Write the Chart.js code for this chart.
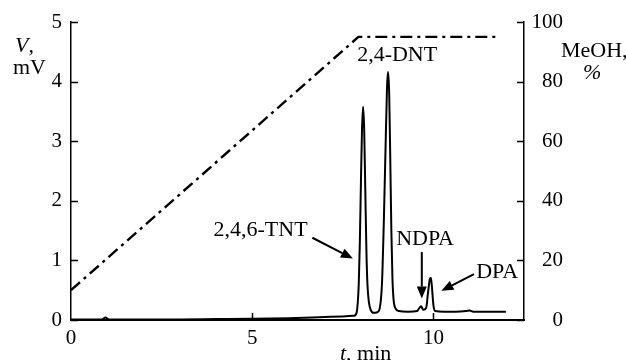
<!DOCTYPE html>
<html>
<head>
<meta charset="utf-8">
<script src="https://cdn.jsdelivr.net/npm/chart.js@4/dist/chart.umd.min.js"></script>
<style>
  html, body { margin: 0; padding: 0; background: #fff; }
  #wrap { width: 626px; height: 360px; position: relative; }
</style>
</head>
<body>
<div id="wrap"><canvas id="c"></canvas></div>
<script>
// ---- data ----
const timeMin = [0.0, 0.5, 0.85, 0.95, 1.05, 2.0, 3.0, 4.0, 5.0, 6.0, 7.0, 7.5, 7.8, 7.86, 7.9, 7.94, 7.97, 8.0, 8.03, 8.06, 8.09, 8.12, 8.15, 8.18, 8.22, 8.27, 8.35, 8.45, 8.52, 8.58, 8.63, 8.68, 8.72, 8.75, 8.78, 8.81, 8.84, 8.87, 8.9, 8.95, 9.05, 9.3, 9.55, 9.6, 9.66, 9.72, 9.8, 9.85, 9.9, 9.93, 9.96, 10.0, 10.05, 10.3, 10.6, 10.9, 11.0, 11.1, 11.5, 12.0];
const signalMV = [0.01, 0.01, 0.01, 0.04, 0.01, 0.01, 0.01, 0.015, 0.02, 0.03, 0.05, 0.06, 0.07, 0.09, 0.2, 0.6, 1.3, 2.3, 3.2, 3.58, 3.2, 2.2, 1.2, 0.6, 0.3, 0.17, 0.12, 0.13, 0.2, 0.6, 1.6, 2.9, 3.9, 4.16, 3.8, 2.7, 1.5, 0.7, 0.35, 0.2, 0.15, 0.14, 0.15, 0.19, 0.23, 0.17, 0.2, 0.45, 0.68, 0.71, 0.55, 0.25, 0.15, 0.14, 0.14, 0.15, 0.16, 0.14, 0.14, 0.14];
const gradientTime = [0, 7.93, 11.8];
const gradientMeOH = [10, 95, 95];
const xTicks = [0, 5, 10];
const leftTicks = [0, 1, 2, 3, 4, 5];
const rightTicks = [0, 20, 40, 60, 80, 100];
// peak labels (text, anchor in data units)
const peakLabels = [
  { text: '2,4-DNT', t: 9.0, v: 4.44 },
  { text: '2,4,6-TNT', t: 5.23, v: 1.50 },
  { text: 'NDPA', t: 9.77, v: 1.36 },
  { text: 'DPA', t: 11.76, v: 0.80 }
];
// arrows (from -> to, data units)
const arrows = [
  { t0: 6.66, v0: 1.38, t1: 7.78, v1: 1.03 },
  { t0: 9.68, v0: 1.14, t1: 9.68, v1: 0.36 },
  { t0: 11.12, v0: 0.77, t1: 10.22, v1: 0.49 }
];

const SERIF = '"Liberation Serif", "Times New Roman", Times, serif';

const chromPoints = timeMin.map((t, i) => ({ x: t, y: signalMV[i] }));
const gradPoints = gradientTime.map((t, i) => ({ x: t, y: gradientMeOH[i] }));

const decorPlugin = {
  id: 'decor',
  afterDraw(chart) {
    const ctx = chart.ctx;
    const xs = chart.scales.x, ys = chart.scales.y, y2 = chart.scales.y2;
    const area = chart.chartArea;
    ctx.save();
    ctx.strokeStyle = '#000';
    ctx.fillStyle = '#000';
    ctx.lineWidth = 1.5;
    // inward ticks
    ctx.beginPath();
    leftTicks.forEach(v => {
      const p = Math.round(ys.getPixelForValue(v)) + 0.5;
      ctx.moveTo(area.left, p); ctx.lineTo(area.left + 7, p);
    });
    rightTicks.forEach(v => {
      const p = Math.round(y2.getPixelForValue(v)) + 0.5;
      ctx.moveTo(area.right, p); ctx.lineTo(area.right - 7, p);
    });
    xTicks.forEach(v => {
      if (v === 0) return;
      const p = Math.round(xs.getPixelForValue(v)) + 0.5;
      ctx.moveTo(p, area.bottom); ctx.lineTo(p, area.bottom - 7);
    });
    ctx.stroke();

    // peak labels
    ctx.font = '22px ' + SERIF;
    ctx.textAlign = 'center';
    ctx.textBaseline = 'middle';
    peakLabels.forEach(l => {
      ctx.fillText(l.text, xs.getPixelForValue(l.t), ys.getPixelForValue(l.v));
    });

    // arrows
    ctx.lineWidth = 2;
    arrows.forEach(a => {
      const x0 = xs.getPixelForValue(a.t0), y0 = ys.getPixelForValue(a.v0);
      const x1 = xs.getPixelForValue(a.t1), y1 = ys.getPixelForValue(a.v1);
      const ang = Math.atan2(y1 - y0, x1 - x0);
      const hl = 12, hw = 5;
      const bx = x1 - hl * Math.cos(ang), by = y1 - hl * Math.sin(ang);
      ctx.beginPath();
      ctx.moveTo(x0, y0); ctx.lineTo(bx, by);
      ctx.stroke();
      ctx.beginPath();
      ctx.moveTo(x1, y1);
      ctx.lineTo(bx + hw * Math.sin(ang), by - hw * Math.cos(ang));
      ctx.lineTo(bx - hw * Math.sin(ang), by + hw * Math.cos(ang));
      ctx.closePath();
      ctx.fill();
    });

    // axis titles
    ctx.textAlign = 'left';
    ctx.textBaseline = 'middle';
    // left: "V," / "mV"
    ctx.font = 'italic 22px ' + SERIF;
    ctx.fillText('V', 15, 46);
    let w = ctx.measureText('V').width;
    ctx.font = '22px ' + SERIF;
    ctx.fillText(',', 15 + w, 46);
    ctx.fillText('mV', 13, 68);
    // right: "MeOH," / "%"
    ctx.fillText('MeOH,', 561, 51);
    ctx.font = 'italic 22px ' + SERIF;
    ctx.fillText('%', 583, 73);
    // bottom: "t, min"
    ctx.font = 'italic 22px ' + SERIF;
    ctx.fillText('t', 340, 354);
    w = ctx.measureText('t').width;
    ctx.font = '22px ' + SERIF;
    ctx.fillText(', min', 340 + w, 354);
    ctx.restore();
  }
};

function build() {
  new Chart(document.getElementById('c'), {
    type: 'line',
    data: {
      datasets: [
        {
          label: 'Signal',
          data: chromPoints,
          yAxisID: 'y',
          borderColor: '#000',
          borderWidth: 2,
          pointRadius: 0,
          cubicInterpolationMode: 'monotone',
          fill: false
        },
        {
          label: 'MeOH',
          data: gradPoints,
          yAxisID: 'y2',
          borderColor: '#000',
          borderWidth: 2.4,
          borderDash: [12, 5, 3, 5],
          pointRadius: 0,
          tension: 0,
          fill: false
        }
      ]
    },
    options: {
      responsive: true,
      maintainAspectRatio: false,
      animation: false,
      events: [],
      layout: { padding: { top: 22, left: 0, right: 63, bottom: 0 } },
      plugins: { legend: { display: false }, tooltip: { enabled: false } },
      scales: {
        x: {
          type: 'linear',
          min: 0, max: 12.5,
          grid: { display: false, drawTicks: false },
          border: { display: true, color: '#000', width: 2 },
          afterBuildTicks: s => { s.ticks = xTicks.map(v => ({ value: v })); },
          afterFit: s => { s.height = 40; },
          ticks: { color: '#000', padding: 6, maxRotation: 0, font: { family: SERIF, size: 21 } }
        },
        y: {
          position: 'left',
          min: 0, max: 5,
          grid: { display: false, drawTicks: false },
          border: { display: true, color: '#000', width: 1.5 },
          afterBuildTicks: s => { s.ticks = leftTicks.map(v => ({ value: v })); },
          afterFit: s => { s.width = 71; },
          ticks: { color: '#000', padding: 9, font: { family: SERIF, size: 21 } }
        },
        y2: {
          position: 'right',
          min: 0, max: 100,
          grid: { display: false, drawTicks: false },
          border: { display: true, color: '#000', width: 1.5 },
          afterBuildTicks: s => { s.ticks = rightTicks.map(v => ({ value: v })); },
          afterFit: s => { s.width = 39; },
          ticks: { color: '#000', padding: 8, crossAlign: 'far', font: { family: SERIF, size: 21 } }
        }
      }
    },
    plugins: [decorPlugin]
  });
}

const loads = ['22px "Liberation Serif"', 'italic 22px "Liberation Serif"'].map(f => document.fonts.load(f).catch(() => null));
Promise.all(loads).then(build, build);
</script>
</body>
</html>
